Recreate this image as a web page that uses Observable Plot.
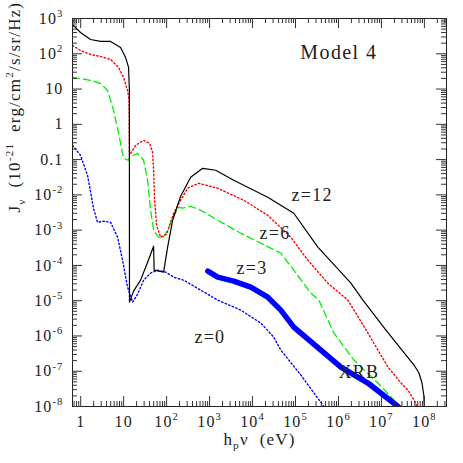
<!DOCTYPE html>
<html><head><meta charset="utf-8">
<script src="https://cdn.jsdelivr.net/npm/d3@7"></script>
<script src="https://cdn.jsdelivr.net/npm/@observablehq/plot@0.6"></script>
<style>body{margin:0;background:#fff;} #chart svg{display:block;background:#fff;} #chart svg text{font-family:"Liberation Serif","DejaVu Serif",serif;}</style>
</head><body><div id="chart"></div>
<script>
// Values, stored as log10(E / eV) and log10(J_nu)
const z12LogE = [-0.191,-0.005,0.228,0.462,0.695,0.928,1.044,1.114,1.133,1.135,1.231,1.394,1.557,1.697,1.709,1.930,2.023,2.140,2.326,2.559,2.839,3.142,3.562,4.354,4.960,5.520,6.289,6.569,7.105,7.758,7.874,7.944,7.986,7.998];
const z12LogJ = [2.830,2.604,2.405,2.349,2.349,2.179,1.896,1.613,0.961,-5.041,-4.729,-4.418,-3.908,-3.455,-4.135,-4.191,-3.484,-2.719,-2.040,-1.502,-1.247,-1.303,-1.587,-2.068,-2.521,-3.484,-4.503,-4.984,-5.834,-6.824,-7.051,-7.334,-7.674,-8.0];

const z6LogE = [-0.191,-0.005,0.228,0.462,0.695,0.881,0.998,1.091,1.126,1.135,1.277,1.464,1.604,1.674,1.697,1.720,1.767,1.860,2.000,2.163,2.326,2.489,2.746,3.189,3.795,4.354,4.890,5.287,5.753,6.219,6.685,7.151,7.455,7.618,7.758,7.828];
const z6LogJ = [2.236,2.094,1.981,1.924,1.839,1.613,1.330,0.961,0.678,-0.879,-0.596,-0.454,-0.539,-0.794,-1.303,-2.153,-2.861,-3.200,-3.115,-2.521,-2.153,-1.813,-1.672,-1.813,-2.153,-2.578,-3.200,-3.852,-4.503,-4.984,-5.918,-6.881,-7.334,-7.532,-7.815,-8.0];

const z3LogE = [-0.191,-0.005,0.228,0.462,0.625,0.765,0.881,0.998,1.114,1.138,1.324,1.464,1.557,1.627,1.697,1.814,1.907,2.023,2.140,2.280,2.373,2.559,2.793,3.189,3.725,4.191,4.657,4.960,5.357,5.543,5.893,6.359,6.918,7.291,7.385];
const z3LogJ = [1.330,1.301,1.245,1.160,0.961,0.395,-0.256,-0.964,-1.020,-0.935,-0.822,-1.020,-1.587,-2.436,-3.002,-3.200,-3.229,-3.002,-2.634,-2.351,-2.379,-2.323,-2.436,-2.719,-3.087,-3.370,-3.653,-4.135,-4.786,-4.984,-5.918,-6.683,-7.334,-7.815,-8.0];

const z0LogE = [-0.191,-0.005,0.159,0.298,0.392,0.531,0.695,0.858,0.974,1.091,1.207,1.324,1.464,1.627,1.790,1.977,2.163,2.396,2.793,3.189,3.725,4.191,4.494,4.657,5.124,5.660];
const z0LogJ = [-0.596,-0.879,-1.445,-2.379,-2.776,-2.747,-2.776,-3.200,-3.851,-4.616,-5.041,-4.814,-4.418,-4.220,-4.135,-4.191,-4.333,-4.418,-4.701,-4.984,-5.267,-5.635,-6.032,-6.400,-7.108,-8.0];

const xrbLogE = [2.960,3.189,3.562,3.958,4.354,4.657,4.960,5.124,5.590,6.056,6.685,7.385];
const xrbLogJ = [-4.163,-4.333,-4.446,-4.616,-4.899,-5.267,-5.748,-5.918,-6.400,-6.881,-7.334,-8.0];

const xTickValues = [1,10,1e2,1e3,1e4,1e5,1e6,1e7,1e8];
const xTickLabels = ["1","10","10^{2}","10^{3}","10^{4}","10^{5}","10^{6}","10^{7}","10^{8}"];
const yTickValues = [1e3,1e2,10,1,0.1,1e-2,1e-3,1e-4,1e-5,1e-6,1e-7,1e-8];
const yTickLabels = ["10^{3}","10^{2}","10","1","0.1","10^{-2}","10^{-3}","10^{-4}","10^{-5}","10^{-6}","10^{-7}","10^{-8}"];

const curveLabels = ["z=12","z=6","z=3","z=0","XRB"];
const curveLabelLogE = [5.387,4.524,3.988,3.007,6.476];
const curveLabelLogJ = [-2.011,-3.087,-4.078,-6.032,-7.023];

const title = "Model 4";
const xTitle = "h_{p}\u03bd  (eV)";
const yTitle = "J_{\u03bd}  (10^{-21}  erg/cm^{2}/s/sr/Hz)";

const xDomain = [0.644, 3.27e8];
const yDomain = [1e-8, 1e3];

const rows = (le, lj) => le.map((e, i) => ({E: 10 ** e, J: 10 ** lj[i]}));
const W = 463, H = 463, mL = 72, mR = 17, mT = 18, mB = 57;
const fw = W - mL - mR, fh = H - mT - mB;

const xMinor = [], yMinor = [];
for (let k = -1; k <= 8; k++) for (let m = 2; m <= 9; m++) {
  const v = m * 10 ** k; if (v >= xDomain[0] && v <= xDomain[1]) xMinor.push(v);
}
for (let k = -8; k <= 2; k++) for (let m = 2; m <= 9; m++) yMinor.push(m * 10 ** k);

const font = "Liberation Serif";
const tc = "#333";
const lbl = curveLabels.map((t, i) => ({t, E: 10 ** curveLabelLogE[i], J: 10 ** curveLabelLogJ[i]}));

const svg = Plot.plot({
  width: W, height: H,
  marginLeft: mL, marginRight: mR, marginTop: mT, marginBottom: mB,
  x: {type: "log", domain: xDomain, axis: null},
  y: {type: "log", domain: yDomain, axis: null},
  marks: [
    Plot.line(rows(z0LogE, z0LogJ), {x: "E", y: "J", stroke: "#0000ff", strokeWidth: 1.4, strokeDasharray: "1.4,2.4", clip: true}),
    Plot.line(rows(z3LogE, z3LogJ), {x: "E", y: "J", stroke: "#00ee00", strokeWidth: 1.3, strokeDasharray: "7,4", clip: true}),
    Plot.line(rows(z6LogE, z6LogJ), {x: "E", y: "J", stroke: "#ff0000", strokeWidth: 1.4, strokeDasharray: "1.4,2.4", clip: true}),
    Plot.line(rows(z12LogE, z12LogJ), {x: "E", y: "J", stroke: "#000", strokeWidth: 1.2, clip: true}),
    Plot.line(rows(xrbLogE, xrbLogJ), {x: "E", y: "J", stroke: "#0000ff", strokeWidth: 5.5, clip: true}),
    Plot.frame({stroke: "#222"}),
    Plot.tickX(xTickValues, {x: d => d, insetTop: fh - 10, stroke: tc}),
    Plot.tickX(xTickValues, {x: d => d, insetBottom: fh - 10, stroke: tc}),
    Plot.tickX(xMinor, {x: d => d, insetTop: fh - 5, stroke: tc}),
    Plot.tickX(xMinor, {x: d => d, insetBottom: fh - 5, stroke: tc}),
    Plot.tickY(yTickValues, {y: d => d, insetRight: fw - 10, stroke: tc}),
    Plot.tickY(yTickValues, {y: d => d, insetLeft: fw - 10, stroke: tc}),
    Plot.tickY(yMinor, {y: d => d, insetRight: fw - 5, stroke: tc}),
    Plot.tickY(yMinor, {y: d => d, insetLeft: fw - 5, stroke: tc}),
    Plot.text(xTickValues, {x: d => d, y: yDomain[0], text: (d, i) => xTickLabels[i], dy: 15, fontSize: 16, fontFamily: font, fill: "#222"}),
    Plot.text(yTickValues, {x: xDomain[0], y: d => d, text: (d, i) => yTickLabels[i], dx: -9, textAnchor: "end", fontSize: 16, fontFamily: font, fill: "#222"}),
    Plot.text(lbl, {x: "E", y: "J", text: "t", fontSize: 18, fontFamily: font, fill: "#222"}),
    Plot.text([title], {x: 10 ** 6.009, y: 10 ** 2.023, text: d => d, fontSize: 20, fontFamily: font, fill: "#222"}),
    Plot.text([xTitle], {frameAnchor: "bottom", dy: 38, text: d => d, fontSize: 17, fontFamily: font, fill: "#222"}),
    Plot.text([yTitle], {frameAnchor: "left", dx: -58, rotate: -90, text: d => d, fontSize: 17, fontFamily: font, fill: "#222"})
  ]
});
document.getElementById("chart").appendChild(svg);

// turn ^{..} and _{..} into raised / lowered tspans
const NS = "http://www.w3.org/2000/svg";
svg.querySelectorAll("text").forEach(t => {
  const s = t.textContent;
  const fs = parseFloat(getComputedStyle(t).fontSize) || 16;
  t.style.letterSpacing = (fs * 0.07).toFixed(2) + "px";
  if (!/[\^_]\{/.test(s)) return;
  while (t.firstChild) t.removeChild(t.firstChild);
  const add = (txt, dy, size) => {
    const ts = document.createElementNS(NS, "tspan");
    ts.textContent = txt;
    if (dy) ts.setAttribute("dy", dy.toFixed(2));
    if (size) ts.setAttribute("font-size", size.toFixed(2));
    t.appendChild(ts);
  };
  const re = /([\^_])\{([^}]*)\}/g;
  let last = 0, m, shift = 0;
  while ((m = re.exec(s))) {
    if (m.index > last) { add(s.slice(last, m.index), -shift); shift = 0; }
    const d = m[1] === "^" ? -0.42 * fs : 0.28 * fs;
    add(m[2], d - shift, 0.66 * fs);
    shift = d;
    last = re.lastIndex;
  }
  if (last < s.length) add(s.slice(last), -shift);
});
</script></body></html>
